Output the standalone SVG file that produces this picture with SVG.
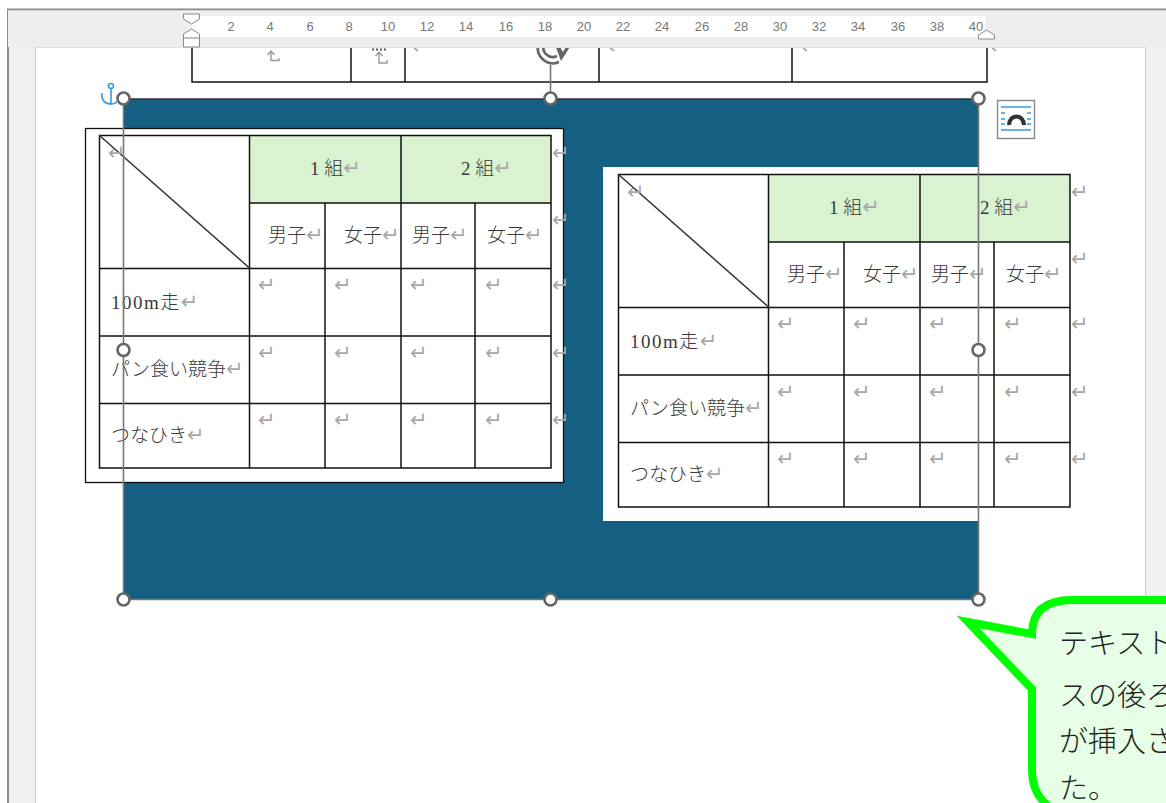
<svg xmlns="http://www.w3.org/2000/svg" width="1166" height="803" viewBox="0 0 1166 803">
<style>
.rn{font:13px "Liberation Sans",Arial,sans-serif;fill:#777;text-anchor:middle}
.c{font:300 19px "Liberation Serif","Noto Sans CJK JP",serif;fill:#3a3a3a}
.m{font:400 21px "DejaVu Sans",sans-serif;fill:#a8a8a8}
.tl{fill:none;stroke:#111;stroke-width:1.5}
.sel{fill:none;stroke:#777;stroke-width:1.6}
.h{fill:#fff;stroke:#666;stroke-width:2.6}
.co{font:300 29px "Noto Sans CJK JP",sans-serif;fill:#222}
.bl{stroke:#3a9bdc;stroke-width:1.6;fill:none}
.up{fill:none;stroke:#999;stroke-width:1.4}
</style>
<rect width="1166" height="803" fill="#fff"/>
<g id="window">
<rect x="8" y="10" width="1158" height="793" fill="#f0f0f0"/>
<rect x="36" y="47" width="1109" height="756" fill="#fff"/>
<path d="M35.500 47V803M1145.500 47V803" stroke="#ccc" fill="none"/>
<path d="M8 803V9.500H1166" stroke="#8a8a8a" stroke-width="2" fill="none"/>
</g>
<g id="top-table">
<path class="tl" d="M192 47V82H987V47M351 47V82M405 47V82M599 47V82M792 47V82" stroke="#333"/>
<path class="up" d="M267.500 55L271 51L274.500 55M271 51V60.500H279V58"/>
<path class="up" d="M375.500 56L379 52L382.500 56M379 52V63H387V60"/>
<path d="M372 49.500h16" stroke="#555" stroke-width="2" stroke-dasharray="2 2"/>
<text class="m" x="412" y="54">↵</text><text class="m" x="608" y="54">↵</text><text class="m" x="801" y="54">↵</text><text class="m" x="990" y="54">↵</text>
<path d="M538.500 44A15 15 0 0 0 559 62M544 44A9.500 9.500 0 0 0 557 56" fill="none" stroke="#666" stroke-width="2.600"/>
<path d="M554 42H573L561 61Z" fill="#666"/>
<path d="M560 47L566 47L563 52Z" fill="#fff"/>
</g>
<g id="ruler">
<rect x="8" y="10.500" width="1158" height="36.500" fill="#eee"/>
<path d="M36 47.500H1145" stroke="#ddd"/>
<rect x="192" y="16" width="793" height="21" fill="#fff"/>
<text class="rn" x="231" y="31">2</text><text class="rn" x="270" y="31">4</text><text class="rn" x="310" y="31">6</text><text class="rn" x="349" y="31">8</text><text class="rn" x="388" y="31">10</text><text class="rn" x="427" y="31">12</text><text class="rn" x="466" y="31">14</text><text class="rn" x="506" y="31">16</text><text class="rn" x="545" y="31">18</text><text class="rn" x="584" y="31">20</text><text class="rn" x="623" y="31">22</text><text class="rn" x="662" y="31">24</text><text class="rn" x="702" y="31">26</text><text class="rn" x="741" y="31">28</text><text class="rn" x="780" y="31">30</text><text class="rn" x="819" y="31">32</text><text class="rn" x="858" y="31">34</text><text class="rn" x="898" y="31">36</text><text class="rn" x="937" y="31">38</text><text class="rn" x="976" y="31">40</text>
<path d="M183.500 14H199.500V19L191.500 24L183.500 19Z" fill="#fff" stroke="#888"/>
<path d="M191.500 29L199.500 34V47H183.500V34Z" fill="#fff" stroke="#888"/>
<path d="M183.500 38H199.500" stroke="#888"/>
<path d="M986.500 30L994.500 35V39H978.500V35Z" fill="#fff" stroke="#888"/>
</g>
<g id="background-shape">
<rect x="123.500" y="99" width="855" height="500.500" fill="#156082"/>
<path d="M123.500 99H978.500" stroke="#333" stroke-width="1.500"/>
</g>
<g id="table-1">
<rect x="85.500" y="128.500" width="478" height="354" fill="#fff" stroke="#111" stroke-width="1.300"/>
<rect x="250" y="135.500" width="301" height="67.500" fill="#d9f2d0"/>
<path class="tl" d="M99.500 135.500H551V468H99.500ZM249.500 135.500V468M401 135.500V468M325 203V468M475 203V468M250 203H551M99.500 268.500H551M99.500 336H551M99.500 403.500H551"/>
<path d="M99.500 135.500L250 268.500" stroke="#333" stroke-width="1.500"/>
<text class="m" x="108" y="160">↵</text>
<text class="c" x="310" y="175">1 組<tspan class="m">↵</tspan></text>
<text class="c" x="461" y="175">2 組<tspan class="m">↵</tspan></text>
<text class="c" x="268" y="242">男子<tspan class="m">↵</tspan></text>
<text class="c" x="344" y="242">女子<tspan class="m">↵</tspan></text>
<text class="c" x="412" y="242">男子<tspan class="m">↵</tspan></text>
<text class="c" x="487" y="242">女子<tspan class="m">↵</tspan></text>
<text class="c" x="111" y="309" letter-spacing="1.500">100m走<tspan class="m" letter-spacing="0">↵</tspan></text>
<text class="c" x="111" y="376">パン食い競争<tspan class="m">↵</tspan></text>
<text class="c" x="111" y="442">つなひき<tspan class="m">↵</tspan></text>
<text class="m" x="258" y="292">↵</text><text class="m" x="334" y="292">↵</text><text class="m" x="410" y="292">↵</text><text class="m" x="485" y="292">↵</text><text class="m" x="552" y="292">↵</text>
<text class="m" x="258" y="360">↵</text><text class="m" x="334" y="360">↵</text><text class="m" x="410" y="360">↵</text><text class="m" x="485" y="360">↵</text><text class="m" x="552" y="360">↵</text>
<text class="m" x="258" y="427">↵</text><text class="m" x="334" y="427">↵</text><text class="m" x="410" y="427">↵</text><text class="m" x="485" y="427">↵</text><text class="m" x="552" y="427">↵</text>
<text class="m" x="552" y="160">↵</text><text class="m" x="552" y="227">↵</text>
</g>
<g id="table-2">
<rect x="603" y="167" width="481" height="354" fill="#fff"/>
<rect x="769" y="174.500" width="301" height="67.500" fill="#d9f2d0"/>
<path class="tl" d="M618.500 174.500H1070V507H618.500ZM768.500 174.500V507M920 174.500V507M844 242V507M994 242V507M769 242H1070M618.500 307.500H1070M618.500 375H1070M618.500 442.500H1070"/>
<path d="M618.500 174.500L769 307.500" stroke="#333" stroke-width="1.500"/>
<text class="m" x="627" y="199">↵</text>
<text class="c" x="829" y="214">1 組<tspan class="m">↵</tspan></text>
<text class="c" x="980" y="214">2 組<tspan class="m">↵</tspan></text>
<text class="c" x="787" y="281">男子<tspan class="m">↵</tspan></text>
<text class="c" x="863" y="281">女子<tspan class="m">↵</tspan></text>
<text class="c" x="931" y="281">男子<tspan class="m">↵</tspan></text>
<text class="c" x="1006" y="281">女子<tspan class="m">↵</tspan></text>
<text class="c" x="630" y="348" letter-spacing="1.500">100m走<tspan class="m" letter-spacing="0">↵</tspan></text>
<text class="c" x="630" y="415">パン食い競争<tspan class="m">↵</tspan></text>
<text class="c" x="630" y="481">つなひき<tspan class="m">↵</tspan></text>
<text class="m" x="777" y="331">↵</text><text class="m" x="853" y="331">↵</text><text class="m" x="929" y="331">↵</text><text class="m" x="1004" y="331">↵</text><text class="m" x="1071" y="331">↵</text>
<text class="m" x="777" y="399">↵</text><text class="m" x="853" y="399">↵</text><text class="m" x="929" y="399">↵</text><text class="m" x="1004" y="399">↵</text><text class="m" x="1071" y="399">↵</text>
<text class="m" x="777" y="466">↵</text><text class="m" x="853" y="466">↵</text><text class="m" x="929" y="466">↵</text><text class="m" x="1004" y="466">↵</text><text class="m" x="1071" y="466">↵</text>
<text class="m" x="1071" y="199">↵</text><text class="m" x="1071" y="266">↵</text>
</g>
<g id="selection">
<path class="sel" d="M123.500 99V599.500H978.500V99M550.500 65V98"/>
<circle class="h" cx="123.500" cy="98.500" r="6"/><circle class="h" cx="550.500" cy="98.500" r="6"/><circle class="h" cx="978.500" cy="98.500" r="6"/>
<circle class="h" cx="123.500" cy="350" r="6"/><circle class="h" cx="978.500" cy="350" r="6"/>
<circle class="h" cx="123.500" cy="599.500" r="6"/><circle class="h" cx="550.500" cy="599.500" r="6"/><circle class="h" cx="978.500" cy="599.500" r="6"/>
</g>
<g id="anchor">
<circle class="bl" cx="111" cy="86" r="2.500" stroke-width="1.800"/>
<path class="bl" d="M111 89V104M102 93C101 100 105 104 111 104C114 104 116 103 118 101" stroke-width="2"/>
</g>
<g id="layout-button">
<rect x="997.500" y="100.500" width="37" height="38" fill="#fff" stroke="#888" stroke-width="1.400"/>
<path class="bl" d="M1001 107H1031M1001 130H1031M1001 113H1005M1027 113H1031M1001 119H1005M1027 119H1031M1001 124H1005M1027 124H1031"/>
<path d="M1009 125A7 8 0 0 1 1024 125" fill="none" stroke="#333" stroke-width="4"/>
</g>
<g id="callout">
<path d="M1170 600H1072Q1032 600 1032 634L968 622L1032 689V770Q1032 795 1050 807H1170Z" fill="#e6ffe6" stroke="#00ff00" stroke-width="8" stroke-miterlimit="10"/>
<text class="co" x="1059" y="654">テキスト</text>
<text class="co" x="1059" y="706">スの後ろ</text>
<text class="co" x="1059" y="752">が挿入さ</text>
<text class="co" x="1059" y="799">た。</text>
</g>
</svg>
